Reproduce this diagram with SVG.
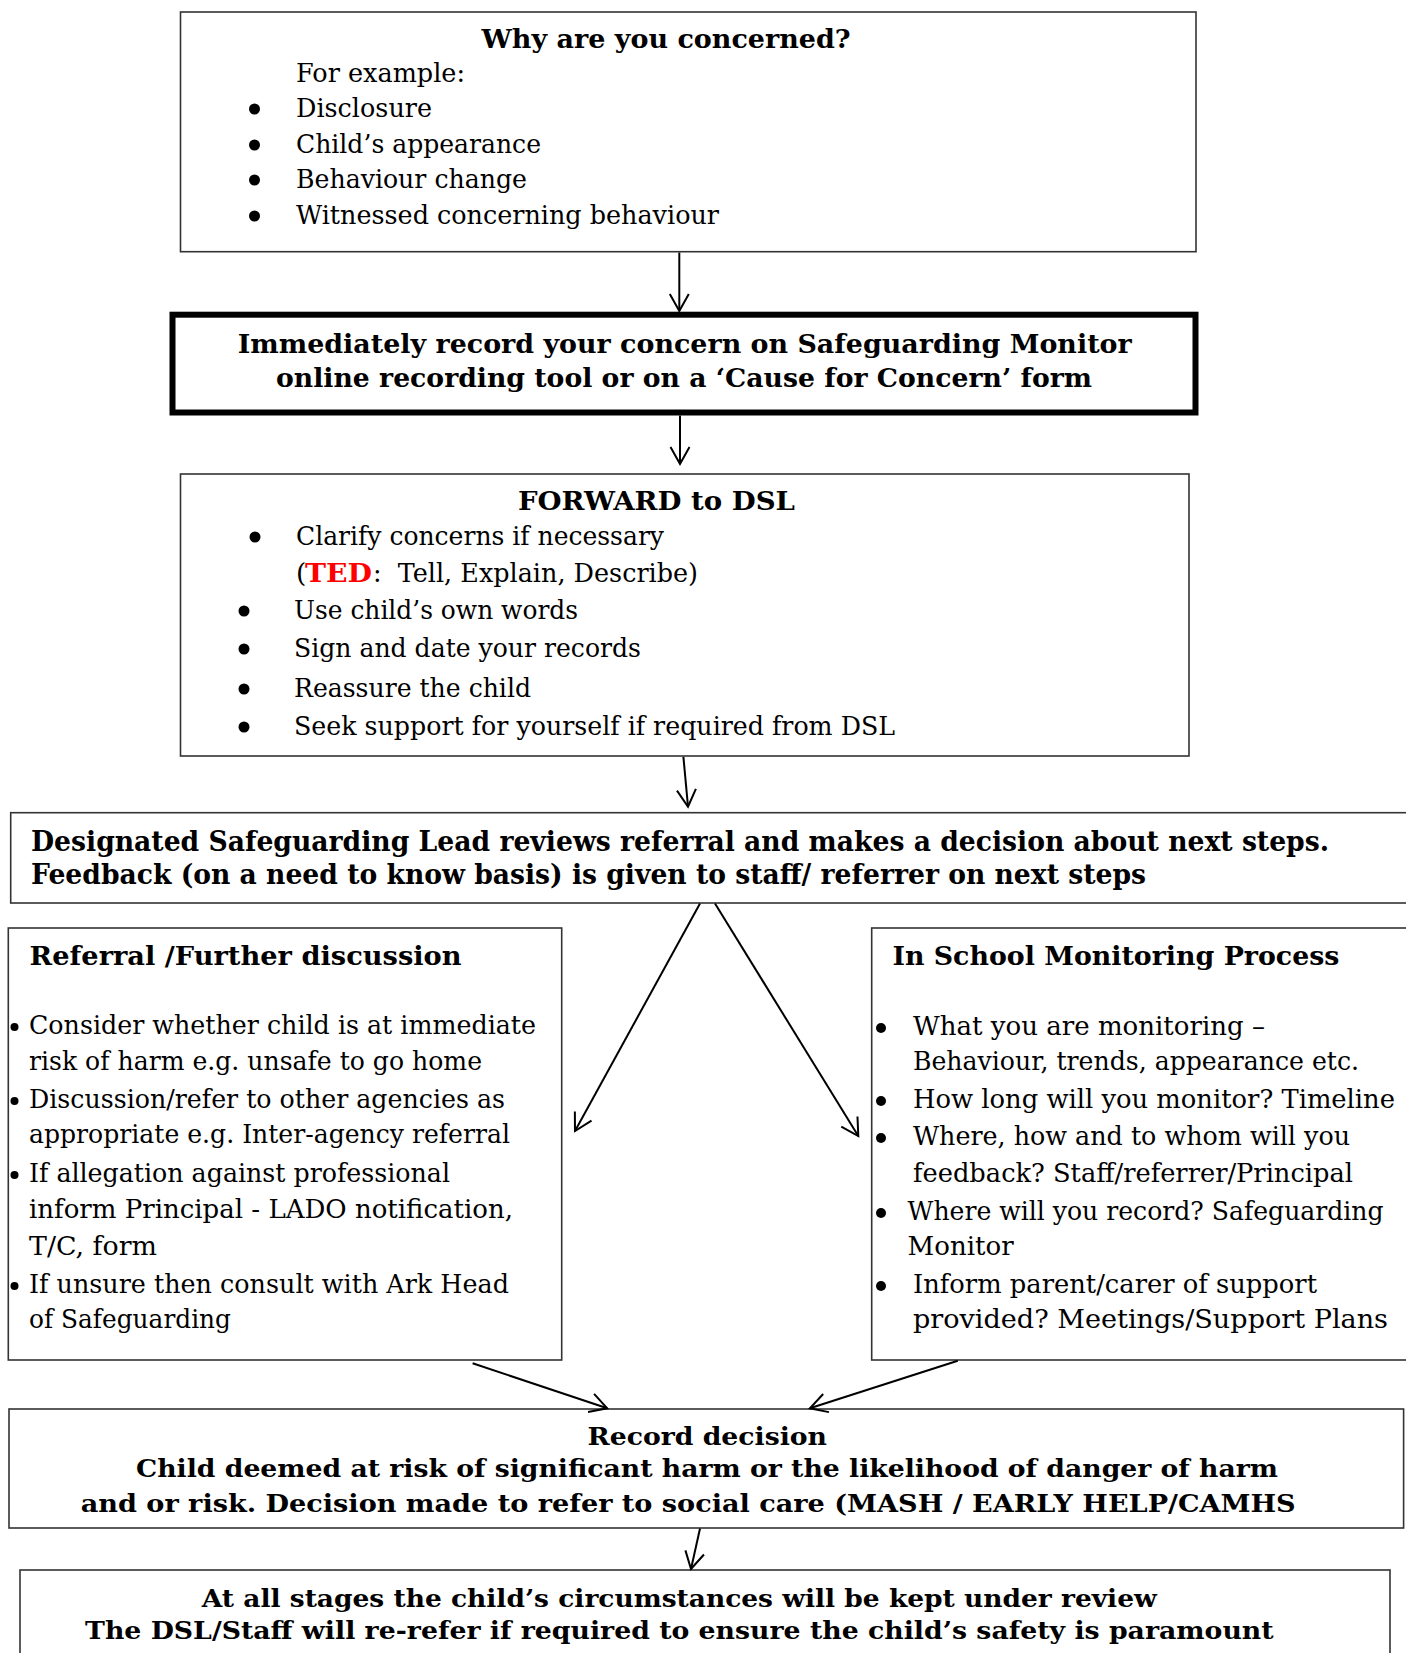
<svg xmlns="http://www.w3.org/2000/svg" width="1406" height="1653" viewBox="0 0 1406 1653">
<style>
text{font-family:"DejaVu Serif","Liberation Serif",serif;fill:#000;white-space:pre}
.r{font-size:26.5px}
.b{font-size:26px;font-weight:bold}
.b4{font-size:27px;font-weight:bold}
.b7{font-size:24.5px;font-weight:bold}
.box{fill:#fff;stroke:#333;stroke-width:1.6}
.thick{fill:#fff;stroke:#000;stroke-width:6}
.con{fill:none;stroke:#000;stroke-width:2}
.dot{fill:#000}
</style>
<defs>
<marker id="arr" viewBox="-20 -12 24 24" markerWidth="24" markerHeight="24" refX="0" refY="0" orient="auto" markerUnits="userSpaceOnUse">
<path d="M-17,-9.5 L0,0 L-17,9.5" fill="none" stroke="#000" stroke-width="2"/>
</marker>
</defs>
<rect width="1406" height="1653" fill="#fff"/>

<g id="concern">
<rect class="box" x="180.5" y="12" width="1015.5" height="239.7"/>
<text class="b" x="481.6" y="48" textLength="369" lengthAdjust="spacingAndGlyphs">Why are you concerned?</text>
<text class="r" x="296" y="82" textLength="169" lengthAdjust="spacingAndGlyphs">For example:</text>
<circle class="dot" cx="254.5" cy="109" r="5.5"/>
<text class="r" x="296" y="117" textLength="136" lengthAdjust="spacingAndGlyphs">Disclosure</text>
<circle class="dot" cx="254.5" cy="145" r="5.5"/>
<text class="r" x="296" y="153" textLength="245" lengthAdjust="spacingAndGlyphs">Child’s appearance</text>
<circle class="dot" cx="254.5" cy="180" r="5.5"/>
<text class="r" x="296" y="188" textLength="231" lengthAdjust="spacingAndGlyphs">Behaviour change</text>
<circle class="dot" cx="254.5" cy="216" r="5.5"/>
<text class="r" x="296" y="224" textLength="423" lengthAdjust="spacingAndGlyphs">Witnessed concerning behaviour</text>
</g>

<g id="record">
<rect class="thick" x="172.5" y="314.7" width="1023" height="97.8"/>
<text class="b" x="237.7" y="353" textLength="894" lengthAdjust="spacingAndGlyphs">Immediately record your concern on Safeguarding Monitor</text>
<text class="b" x="276" y="387" textLength="816" lengthAdjust="spacingAndGlyphs">online recording tool or on a ‘Cause for Concern’ form</text>
</g>

<g id="forward">
<rect class="box" x="180.5" y="474" width="1008.5" height="282"/>
<text class="b" x="518" y="510" textLength="277" lengthAdjust="spacingAndGlyphs">FORWARD to DSL</text>
<circle class="dot" cx="255" cy="537" r="5.5"/>
<text class="r" x="296" y="545" textLength="368" lengthAdjust="spacingAndGlyphs">Clarify concerns if necessary</text>
<text class="r" x="296" y="582">(</text>
<text class="b" x="305" y="582" textLength="67" lengthAdjust="spacingAndGlyphs" style="fill:#f00">TED</text>
<text class="r" x="373" y="582" textLength="325" lengthAdjust="spacingAndGlyphs">:  Tell, Explain, Describe)</text>
<circle class="dot" cx="244" cy="611" r="5.5"/>
<text class="r" x="294" y="619" textLength="284" lengthAdjust="spacingAndGlyphs">Use child’s own words</text>
<circle class="dot" cx="244" cy="649" r="5.5"/>
<text class="r" x="294" y="657" textLength="347" lengthAdjust="spacingAndGlyphs">Sign and date your records</text>
<circle class="dot" cx="244" cy="689" r="5.5"/>
<text class="r" x="294" y="697" textLength="237" lengthAdjust="spacingAndGlyphs">Reassure the child</text>
<circle class="dot" cx="244" cy="727" r="5.5"/>
<text class="r" x="294" y="735" textLength="601" lengthAdjust="spacingAndGlyphs">Seek support for yourself if required from DSL</text>
</g>

<g id="dsl-review">
<rect class="box" x="10.7" y="812.7" width="1400" height="90.3"/>
<text class="b4" x="31" y="851" textLength="1298" lengthAdjust="spacingAndGlyphs">Designated Safeguarding Lead reviews referral and makes a decision about next steps.</text>
<text class="b4" x="31" y="884" textLength="1115" lengthAdjust="spacingAndGlyphs">Feedback (on a need to know basis) is given to staff/ referrer on next steps</text>
</g>

<g id="referral">
<rect class="box" x="8.3" y="928" width="553.4" height="432"/>
<text class="b" x="29.6" y="965" textLength="432" lengthAdjust="spacingAndGlyphs">Referral /Further discussion</text>
<circle class="dot" cx="14.5" cy="1027" r="4"/>
<text class="r" x="29" y="1034" textLength="507" lengthAdjust="spacingAndGlyphs">Consider whether child is at immediate</text>
<text class="r" x="29" y="1070" textLength="453" lengthAdjust="spacingAndGlyphs">risk of harm e.g. unsafe to go home</text>
<circle class="dot" cx="14.5" cy="1101" r="4"/>
<text class="r" x="29" y="1108" textLength="476" lengthAdjust="spacingAndGlyphs">Discussion/refer to other agencies as</text>
<text class="r" x="29" y="1143" textLength="481" lengthAdjust="spacingAndGlyphs">appropriate e.g. Inter-agency referral</text>
<circle class="dot" cx="14.5" cy="1175" r="4"/>
<text class="r" x="29" y="1182" textLength="421" lengthAdjust="spacingAndGlyphs">If allegation against professional</text>
<text class="r" x="29" y="1218" textLength="484" lengthAdjust="spacingAndGlyphs">inform Principal - LADO notification,</text>
<text class="r" x="29" y="1255" textLength="128" lengthAdjust="spacingAndGlyphs">T/C, form</text>
<circle class="dot" cx="14.5" cy="1286" r="4"/>
<text class="r" x="29" y="1293" textLength="480" lengthAdjust="spacingAndGlyphs">If unsure then consult with Ark Head</text>
<text class="r" x="29" y="1328" textLength="202" lengthAdjust="spacingAndGlyphs">of Safeguarding</text>
</g>

<g id="monitoring">
<rect class="box" x="871.7" y="928" width="540" height="432"/>
<text class="b" x="892.4" y="965" textLength="447" lengthAdjust="spacingAndGlyphs">In School Monitoring Process</text>
<circle class="dot" cx="881" cy="1028" r="5"/>
<text class="r" x="913" y="1035" textLength="352" lengthAdjust="spacingAndGlyphs">What you are monitoring –</text>
<text class="r" x="913" y="1070" textLength="446" lengthAdjust="spacingAndGlyphs">Behaviour, trends, appearance etc.</text>
<circle class="dot" cx="881" cy="1101" r="5"/>
<text class="r" x="913" y="1108" textLength="482" lengthAdjust="spacingAndGlyphs">How long will you monitor? Timeline</text>
<circle class="dot" cx="881" cy="1138" r="5"/>
<text class="r" x="913" y="1145" textLength="437" lengthAdjust="spacingAndGlyphs">Where, how and to whom will you</text>
<text class="r" x="913" y="1182" textLength="440" lengthAdjust="spacingAndGlyphs">feedback? Staff/referrer/Principal</text>
<circle class="dot" cx="881" cy="1213" r="5"/>
<text class="r" x="907.6" y="1220" textLength="476" lengthAdjust="spacingAndGlyphs">Where will you record? Safeguarding</text>
<text class="r" x="907.6" y="1255" textLength="106" lengthAdjust="spacingAndGlyphs">Monitor</text>
<circle class="dot" cx="881" cy="1286" r="5"/>
<text class="r" x="913" y="1293" textLength="404" lengthAdjust="spacingAndGlyphs">Inform parent/carer of support</text>
<text class="r" x="913" y="1328" textLength="475" lengthAdjust="spacingAndGlyphs">provided? Meetings/Support Plans</text>
</g>

<g id="record-decision">
<rect class="box" x="9" y="1409" width="1394.6" height="119"/>
<text class="b7" x="587.5" y="1445" textLength="239.5" lengthAdjust="spacingAndGlyphs">Record decision</text>
<text class="b7" x="136" y="1477" textLength="1142" lengthAdjust="spacingAndGlyphs">Child deemed at risk of significant harm or the likelihood of danger of harm</text>
<text class="b7" x="80.7" y="1512" textLength="1215" lengthAdjust="spacingAndGlyphs">and or risk. Decision made to refer to social care (MASH / EARLY HELP/CAMHS</text>
</g>

<g id="review">
<rect class="box" x="20" y="1570" width="1370" height="100"/>
<text class="b7" x="201.8" y="1607" textLength="955" lengthAdjust="spacingAndGlyphs">At all stages the child’s circumstances will be kept under review</text>
<text class="b7" x="85" y="1639" textLength="1188.6" lengthAdjust="spacingAndGlyphs">The DSL/Staff will re-refer if required to ensure the child’s safety is paramount</text>
</g>

<g id="connectors">
<line class="con" x1="679.3" y1="252.5" x2="679.3" y2="311" marker-end="url(#arr)"/>
<line class="con" x1="680" y1="415.5" x2="680" y2="464" marker-end="url(#arr)"/>
<line class="con" x1="683.4" y1="756.8" x2="688" y2="806.7" marker-end="url(#arr)"/>
<line class="con" x1="700" y1="903.5" x2="575" y2="1131" marker-end="url(#arr)"/>
<line class="con" x1="715" y1="903.5" x2="858.3" y2="1136" marker-end="url(#arr)"/>
<line class="con" x1="472.6" y1="1363.3" x2="607.2" y2="1408.3" marker-end="url(#arr)"/>
<line class="con" x1="957.8" y1="1360.7" x2="809.9" y2="1408.3" marker-end="url(#arr)"/>
<line class="con" x1="700" y1="1528.5" x2="691" y2="1569" marker-end="url(#arr)"/>
</g>
</svg>
